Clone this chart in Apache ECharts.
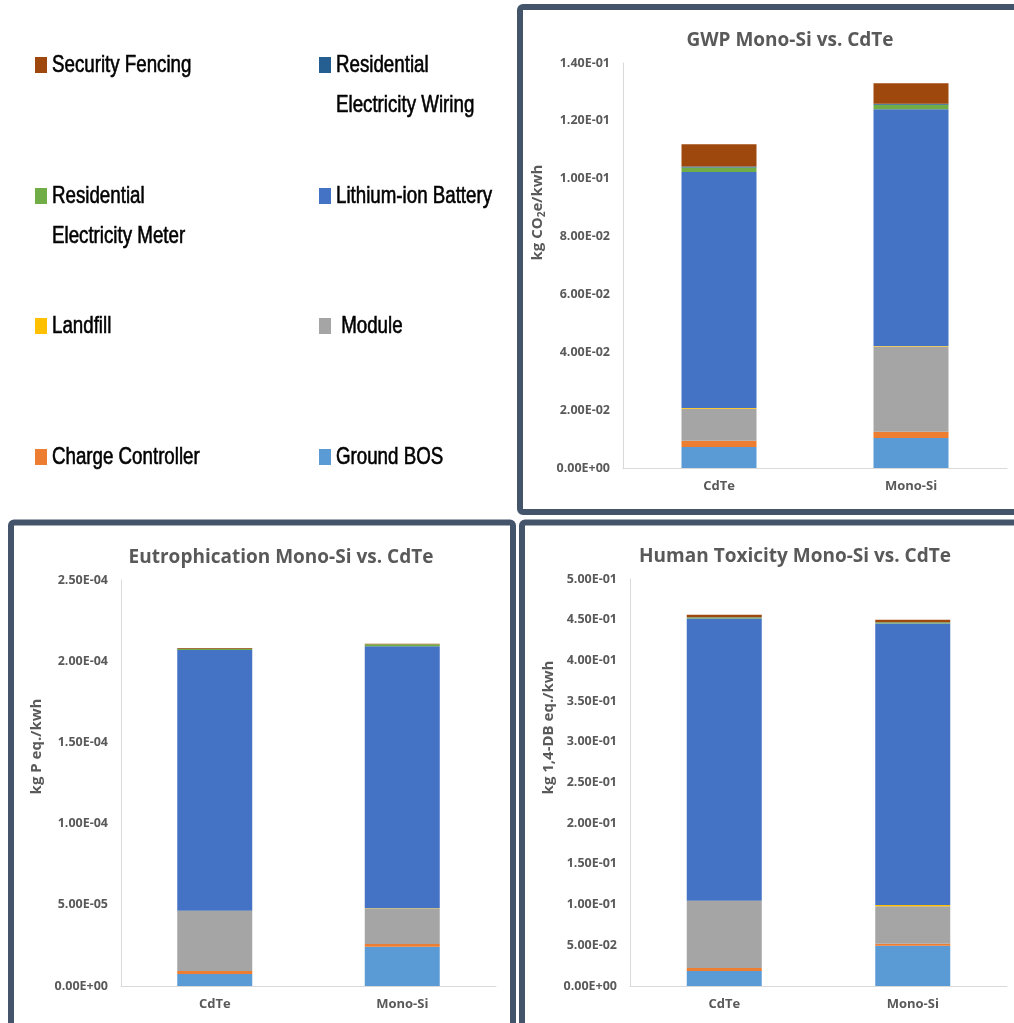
<!DOCTYPE html>
<html>
<head>
<meta charset="utf-8">
<script src="https://cdn.jsdelivr.net/npm/echarts@6/dist/echarts.min.js"></script>
<style>
html,body{margin:0;padding:0;background:#fff;}
#c{width:1014px;height:1023px;}
</style>
</head>
<body>
<div id="c"></div>
<script>
// ---------- DATA ----------
const categories = ['CdTe', 'Mono-Si'];
const seriesNames = ['Ground BOS', 'Charge Controller', 'Module', 'Landfill',
  'Lithium-ion Battery', 'Residential Electricity Meter', 'Residential Electricity Wiring', 'Security Fencing'];

// GWP (kg CO2e/kwh)
const gwpGroundBOS = [0.0073, 0.0104];
const gwpChargeController = [0.0021, 0.0021];
const gwpModule = [0.0111, 0.0295];
const gwpLandfill = [0.0002, 0.0002];
const gwpBattery = [0.0816, 0.0818];
const gwpMeter = [0.0016, 0.0016];
const gwpWiring = [0.0003, 0.0003];
const gwpFencing = [0.0077, 0.0071];

// Eutrophication (kg P eq./kwh)
const euGroundBOS = [7.4e-6, 2.42e-5];
const euChargeController = [1.8e-6, 1.7e-6];
const euModule = [3.70e-5, 2.19e-5];
const euLandfill = [0.2e-6, 0.3e-6];
const euBattery = [1.605e-4, 1.611e-4];
const euMeter = [0.6e-6, 1.2e-6];
const euWiring = [0.1e-6, 0.1e-6];
const euFencing = [0.6e-6, 0.3e-6];

// Human toxicity (kg 1,4-DB eq./kwh)
const htGroundBOS = [0.0184, 0.0496];
const htChargeController = [0.0037, 0.0024];
const htModule = [0.0824, 0.0460];
const htLandfill = [0.0003, 0.0015];
const htBattery = [0.3468, 0.3459];
const htMeter = [0.0012, 0.0012];
const htWiring = [0.0003, 0.0003];
const htFencing = [0.0030, 0.0030];

// Axis ranges / tick steps
const gwpAxis = [0, 0.14, 0.02];
const euAxis = [0, 2.5e-4, 5e-5];
const htAxis = [0, 0.5, 0.05];

// Legend labels (as shown in the legend panel)
const legendLabels = {
  'Security Fencing': 'Security Fencing',
  'Residential Electricity Wiring': 'Residential\nElectricity Wiring',
  'Residential Electricity Meter': 'Residential\nElectricity Meter',
  'Lithium-ion Battery': 'Lithium-ion Battery',
  'Landfill': 'Landfill',
  'Module': ' Module',
  'Charge Controller': 'Charge Controller',
  'Ground BOS': 'Ground BOS'
};

// ---------- STYLE ----------
const colors = {
  'Ground BOS': '#5B9BD5',
  'Charge Controller': '#ED7D31',
  'Module': '#A5A5A5',
  'Landfill': '#FFC000',
  'Lithium-ion Battery': '#4472C4',
  'Residential Electricity Meter': '#70AD47',
  'Residential Electricity Wiring': '#255E91',
  'Security Fencing': '#9E480E'
};
const txt = '#595959';
const uiFont = "'Open Sans', 'Liberation Sans', sans-serif";
const legFont = "'Liberation Sans', Arial, sans-serif";
const border = '#44546A';

function sci(v) {
  if (Math.abs(v) < 1e-20) return '0.00E+00';
  let e = Math.floor(Math.log10(Math.abs(v)) + 1e-9);
  let m = v / Math.pow(10, e);
  if (Math.round(m * 100) / 100 >= 10) { m /= 10; e++; }
  return m.toFixed(2) + 'E' + (e < 0 ? '-' : '+') + String(Math.abs(e)).padStart(2, '0');
}

const panels = [
  { data: [gwpGroundBOS, gwpChargeController, gwpModule, gwpLandfill, gwpBattery, gwpMeter, gwpWiring, gwpFencing],
    axis: gwpAxis, grid: { left: 623, top: 63, width: 384, height: 405 },
    title: 'GWP Mono-Si vs. CdTe', titleX: 790, titleY: 31,
    name: '{a|kg CO}{s|2}{a|e/kwh}', nameGap: 76, namePad: 106 },
  { data: [euGroundBOS, euChargeController, euModule, euLandfill, euBattery, euMeter, euWiring, euFencing],
    axis: euAxis, grid: { left: 121, top: 580, width: 375, height: 406 },
    title: 'Eutrophication Mono-Si vs. CdTe', titleX: 281, titleY: 548,
    name: '{a|kg P eq./kwh}', nameGap: 77, namePad: 73 },
  { data: [htGroundBOS, htChargeController, htModule, htLandfill, htBattery, htMeter, htWiring, htFencing],
    axis: htAxis, grid: { left: 630, top: 579, width: 377, height: 407 },
    title: 'Human Toxicity Mono-Si vs. CdTe', titleX: 795, titleY: 547,
    name: '{a|kg 1,4-DB eq./kwh}', nameGap: 74, namePad: 110 }
];

const grids = [], xAxes = [], yAxes = [], series = [], titles = [];
panels.forEach((p, i) => {
  grids.push(Object.assign({ containLabel: false }, p.grid));
  titles.push({
    text: p.title, left: p.titleX, top: p.titleY, textAlign: 'center', padding: 0,
    textStyle: { fontFamily: uiFont, fontSize: 19, fontWeight: 'bold', color: txt }
  });
  xAxes.push({
    type: 'category', gridIndex: i, data: categories,
    axisLine: { lineStyle: { color: '#D9D9D9', width: 1 } },
    axisTick: { show: false },
    axisLabel: { color: txt, fontFamily: uiFont, fontSize: 13, fontWeight: 'bold', margin: 12 }
  });
  yAxes.push({
    type: 'value', gridIndex: i, min: p.axis[0], max: p.axis[1], interval: p.axis[2],
    axisLine: { show: true, lineStyle: { color: '#D9D9D9', width: 1 } },
    axisTick: { show: false },
    splitLine: { show: false },
    axisLabel: { color: txt, fontFamily: uiFont, fontSize: 12.5, fontWeight: 'bold', margin: 13, formatter: sci },
    name: p.name, nameLocation: 'middle', nameGap: p.nameGap, nameRotate: 90,
    nameTextStyle: {
      padding: [0, 0, 0, p.namePad],
      rich: {
        a: { fontFamily: uiFont, fontSize: 15, fontWeight: 'bold', color: txt },
        s: { fontFamily: uiFont, fontSize: 10, fontWeight: 'bold', color: txt, verticalAlign: 'bottom', padding: [8, 0, 0, 0] }
      }
    }
  });
  seriesNames.forEach((n, k) => {
    series.push({
      name: n, type: 'bar', stack: 'p' + i, xAxisIndex: i, yAxisIndex: i,
      barWidth: 75, data: p.data[k], itemStyle: { color: colors[n] },
      emphasis: { disabled: true }
    });
  });
});

// Legend panel layout: [series name, icon left, icon centre y]
const legendPos = [
  ['Security Fencing', 35, 65],
  ['Residential Electricity Wiring', 319, 65],
  ['Residential Electricity Meter', 35, 196],
  ['Lithium-ion Battery', 319, 196],
  ['Landfill', 35, 326],
  ['Module', 319, 326],
  ['Charge Controller', 35, 457],
  ['Ground BOS', 319, 457]
];

const graphic = [
  { type: 'rect', z: -10, shape: { x: 520, y: 7, width: 520, height: 505, r: 3 }, style: { fill: '#fff', stroke: border, lineWidth: 6 } },
  { type: 'rect', z: -10, shape: { x: 11, y: 522.5, width: 502, height: 520, r: 3 }, style: { fill: '#fff', stroke: border, lineWidth: 6 } },
  { type: 'rect', z: -10, shape: { x: 522, y: 522.5, width: 520, height: 520, r: 3 }, style: { fill: '#fff', stroke: border, lineWidth: 6 } }
];
legendPos.forEach(lp => {
  graphic.push({ type: 'rect', z: 5, shape: { x: lp[1], y: lp[2] - 8, width: 12, height: 16 }, style: { fill: colors[lp[0]] } });
  graphic.push({
    type: 'text', z: 5, x: lp[1] + 17, y: lp[2] - 20, scaleX: 0.78,
    style: { text: legendLabels[lp[0]], font: 'normal 24px ' + legFont, fill: '#000',
      stroke: '#000', lineWidth: 0.6,
      lineHeight: 40, verticalAlign: 'top', align: 'left' }
  });
});

const chart = echarts.init(document.getElementById('c'), null, { renderer: 'canvas' });
chart.setOption({
  animation: false,
  backgroundColor: '#fff',
  title: titles,
  grid: grids,
  xAxis: xAxes,
  yAxis: yAxes,
  series: series,
  graphic: graphic
});
</script>
</body>
</html>
